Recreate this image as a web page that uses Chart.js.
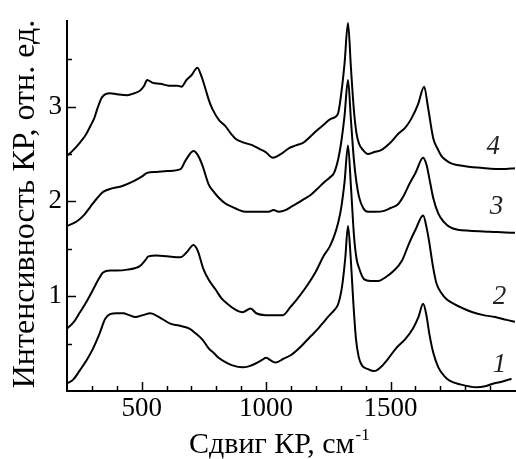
<!DOCTYPE html>
<html>
<head>
<meta charset="utf-8">
<script src="https://cdn.jsdelivr.net/npm/chart.js@4/dist/chart.umd.min.js"></script>
<style>
  html, body { margin: 0; padding: 0; background: #fff; }
  #wrap { width: 516px; height: 459px; }
</style>
</head>
<body>
<div id="wrap"><canvas id="myChart"></canvas></div>
<script>
// Raman shift, cm^-1 and intensity for each spectrum
const shift1 = [200,225,252,280,305,330,353,373,400,426,450,474,505,535,570,615,650,690,716,745,769,790,809,840,865,905,930,958,985,1000,1020,1039,1070,1100,1140,1180,1210,1232,1255,1273,1290,1305,1318,1329,1340,1350,1361,1372,1385,1410,1434,1460,1490,1522,1560,1590,1612,1631,1644,1656,1672,1692,1715,1737,1780,1845,1880,1914,1950,1986];
const int1 = [0.08,0.12,0.22,0.33,0.45,0.60,0.76,0.81,0.82,0.82,0.80,0.78,0.80,0.82,0.78,0.71,0.69,0.66,0.61,0.54,0.45,0.40,0.35,0.30,0.27,0.25,0.26,0.29,0.33,0.35,0.32,0.30,0.34,0.38,0.47,0.58,0.66,0.73,0.80,0.85,0.92,1.10,1.40,1.74,1.40,0.95,0.55,0.36,0.27,0.23,0.21,0.25,0.34,0.45,0.55,0.66,0.78,0.92,0.80,0.60,0.40,0.25,0.16,0.11,0.07,0.04,0.05,0.08,0.10,0.13];

const shift2 = [200,225,252,280,305,325,345,373,400,442,494,515,527,560,603,656,680,708,725,749,770,797,820,849,875,905,938,960,998,1030,1067,1099,1119,1167,1200,1232,1255,1273,1290,1301,1315,1329,1341,1353,1363,1373,1393,1420,1450,1480,1514,1545,1575,1600,1631,1645,1656,1670,1684,1705,1724,1760,1792,1830,1873,1920,1966,2000];
const int2 = [0.66,0.72,0.83,0.95,1.07,1.17,1.25,1.27,1.27,1.28,1.32,1.38,1.42,1.43,1.42,1.41,1.46,1.54,1.48,1.28,1.17,1.07,0.98,0.91,0.86,0.83,0.87,0.82,0.80,0.80,0.80,0.89,0.95,1.12,1.26,1.43,1.52,1.63,1.78,1.92,2.20,2.59,2.15,1.64,1.40,1.30,1.18,1.16,1.16,1.20,1.27,1.37,1.56,1.70,1.85,1.72,1.56,1.32,1.14,1.03,0.97,0.91,0.87,0.83,0.80,0.78,0.75,0.73];

const shift3 = [200,240,270,293,320,345,385,420,466,500,522,560,603,656,676,708,725,744,769,790,809,835,865,890,918,960,1010,1030,1051,1080,1099,1119,1150,1180,1205,1232,1255,1273,1290,1301,1315,1329,1341,1353,1363,1373,1390,1409,1440,1474,1500,1530,1555,1575,1600,1631,1645,1656,1672,1692,1715,1737,1770,1817,1900,1986,2000];
const int3 = [1.74,1.79,1.86,1.94,2.03,2.10,2.14,2.16,2.21,2.26,2.30,2.31,2.32,2.34,2.43,2.53,2.49,2.38,2.18,2.10,2.04,1.98,1.94,1.91,1.89,1.89,1.89,1.91,1.89,1.91,1.94,1.97,2.02,2.07,2.13,2.20,2.25,2.30,2.45,2.61,2.90,3.28,2.85,2.43,2.20,2.05,1.93,1.89,1.89,1.90,1.93,1.97,2.07,2.18,2.30,2.46,2.38,2.24,2.03,1.87,1.78,1.73,1.70,1.69,1.68,1.67,1.67];

const shift4 = [200,225,252,275,293,310,321,332,341,373,400,442,470,494,510,522,545,575,610,643,660,680,700,724,740,757,771,785,810,837,860,877,910,946,975,998,1027,1060,1091,1120,1150,1180,1205,1232,1260,1288,1301,1315,1329,1341,1353,1363,1373,1390,1409,1435,1462,1500,1530,1560,1583,1610,1635,1650,1672,1690,1704,1725,1744,1800,1877,1950,2000];
const int4 = [2.48,2.54,2.62,2.70,2.79,2.88,2.97,3.05,3.10,3.14,3.13,3.12,3.14,3.17,3.22,3.28,3.25,3.24,3.22,3.22,3.21,3.28,3.33,3.41,3.32,3.18,3.06,2.97,2.86,2.79,2.71,2.66,2.62,2.59,2.55,2.52,2.46,2.50,2.56,2.59,2.62,2.69,2.75,2.81,2.87,2.92,3.12,3.45,3.88,3.40,2.95,2.72,2.61,2.54,2.50,2.52,2.54,2.62,2.71,2.78,2.87,3.02,3.21,3.00,2.66,2.55,2.48,2.43,2.40,2.37,2.35,2.34,2.35];

const xTickLabels = [500, 1000, 1500];
const yTickLabels = [1, 2, 3];
const curveNames = ['1', '2', '3', '4'];

const pts = (xs, ys) => xs.map((x, i) => ({ x: x, y: ys[i] }));
const serif = 'Liberation Serif';

const line = (xs, ys) => ({
    data: pts(xs, ys),
    borderColor: '#000',
    borderWidth: 2,
    pointRadius: 0,
    cubicInterpolationMode: 'monotone',
    fill: false
});

// inward ticks, axis titles and curve numbers
const decor = {
    id: 'decor',
    afterDraw(chart) {
        const ctx = chart.ctx;
        const xs = chart.scales.x, ys = chart.scales.y;
        const a = chart.chartArea;
        ctx.save();
        ctx.strokeStyle = '#000';
        ctx.lineWidth = 1.5;
        for (let v = 300; v <= 1900; v += 100) {
            const px = Math.round(xs.getPixelForValue(v)) + 0.5;
            const len = v % 500 === 0 ? 9 : 5;
            ctx.beginPath(); ctx.moveTo(px, a.bottom); ctx.lineTo(px, a.bottom - len); ctx.stroke();
        }
        for (let v = 0.5; v <= 3.5; v += 0.5) {
            const py = Math.round(ys.getPixelForValue(v)) + 0.5;
            const len = Number.isInteger(v) ? 9 : 5;
            ctx.beginPath(); ctx.moveTo(a.left, py); ctx.lineTo(a.left + len, py); ctx.stroke();
        }

        // curve numbers
        const spots = [[1938, 0.27], [1938, 0.99], [1926, 1.94], [1913, 2.57]];
        ctx.fillStyle = '#222';
        ctx.font = 'italic 27px "' + serif + '"';
        ctx.textAlign = 'center';
        ctx.textBaseline = 'middle';
        curveNames.forEach((n, i) => {
            ctx.fillText(n, xs.getPixelForValue(spots[i][0]), ys.getPixelForValue(spots[i][1]));
        });

        // x title with superscript
        ctx.fillStyle = '#000';
        ctx.textAlign = 'left';
        ctx.textBaseline = 'alphabetic';
        ctx.font = '30px "' + serif + '"';
        const main = 'Сдвиг КР, см';
        const w = ctx.measureText(main).width;
        ctx.fillText(main, 189, 453);
        ctx.font = '17px "' + serif + '"';
        ctx.fillText('-1', 189 + w + 1, 440);

        // y title
        ctx.translate(34, 204);
        ctx.rotate(-Math.PI / 2);
        ctx.font = '32px "' + serif + '"';
        ctx.textAlign = 'center';
        ctx.fillText('Интенсивность КР, отн. ед.', 0, 0);
        ctx.restore();
    }
};

const config = {
    type: 'line',
    data: {
        datasets: [line(shift1, int1), line(shift2, int2), line(shift3, int3), line(shift4, int4)]
    },
    options: {
        responsive: true,
        maintainAspectRatio: false,
        animation: false,
        layout: { padding: { top: 12, right: 1, left: 0, bottom: 0 } },
        plugins: { legend: { display: false }, tooltip: { enabled: false } },
        scales: {
            x: {
                type: 'linear',
                min: 200,
                max: 2000,
                afterBuildTicks: s => { s.ticks = xTickLabels.map(v => ({ value: v })); },
                afterFit: s => { s.height = 68; },
                grid: { drawOnChartArea: false, drawTicks: false },
                border: { display: true, color: '#000', width: 2 },
                ticks: { color: '#000', padding: 2, maxRotation: 0, callback: v => String(v), font: { family: serif, size: 27 } }
            },
            y: {
                type: 'linear',
                min: 0,
                max: 3.9,
                afterBuildTicks: s => { s.ticks = yTickLabels.map(v => ({ value: v })); },
                afterFit: s => { s.width = 67; },
                grid: { drawOnChartArea: false, drawTicks: false },
                border: { display: true, color: '#000', width: 2 },
                ticks: { color: '#000', padding: 5, callback: v => String(v), font: { family: serif, size: 27 } }
            }
        }
    },
    plugins: [decor]
};

const ctx = document.getElementById('myChart').getContext('2d');
const myChart = new Chart(ctx, config);
</script>
</body>
</html>
